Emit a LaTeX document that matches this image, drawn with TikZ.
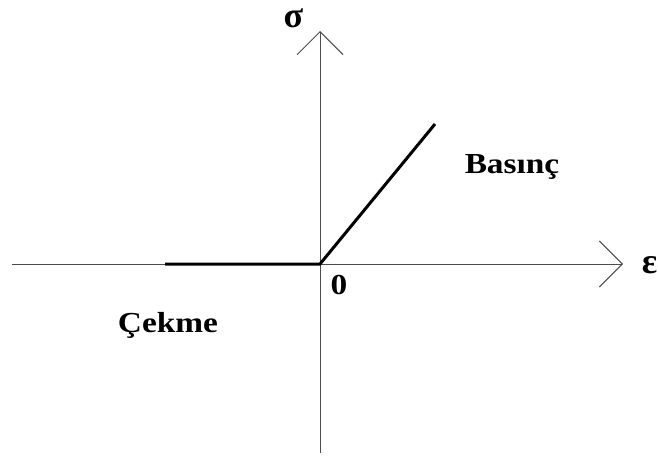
\documentclass[tikz,border=0pt]{standalone}
\usepackage{fontspec}
\setmainfont{Liberation Serif}
\newfontfamily\lblfont[FakeStretch=1.15]{Liberation Serif}
\usetikzlibrary{arrows.meta}

\begin{document}
\begin{tikzpicture}[x=1pt, y=-1pt, every node/.style={font=\lblfont\bfseries\fontsize{29}{31}\selectfont, inner sep=0pt},
  axis/.style={draw=black!70, line width=1pt, -{Straight Barb[length=23pt, width=46pt, line width=1pt]}},
  curve/.style={draw=black, line width=3pt},
  greek/.style={font=\bfseries\fontsize{36}{38}\selectfont}]
  \useasboundingbox (0,0) rectangle (658,455);
  % origin and axis ends
  \coordinate (o) at (320,264);
  \coordinate (xmin) at (12,264);
  \coordinate (xmax) at (623,264);
  \coordinate (ymin) at (320,453);
  \coordinate (ymax) at (320,31);
  \draw[axis] (xmin) -- (xmax);
  \draw[axis] (ymin) -- (ymax);
  % stress--strain branches
  \coordinate (tens) at (165,264);
  \coordinate (comp) at (435,124);
  \draw[curve, line join=miter] (tens) -- (o) -- (comp);
  % labels
  \node[greek, anchor=base] (sig) at (293.5,27.5) {σ};
  \node[greek, anchor=base] (eps) at (649.5,273) {ε};
  \node[anchor=base] (zero) at (339,294) {0};
  \node[anchor=base] (bas) at (512,173) {Basınç};
  \node[anchor=base] (cek) at (168,332) {Çekme};
\end{tikzpicture}
\end{document}
